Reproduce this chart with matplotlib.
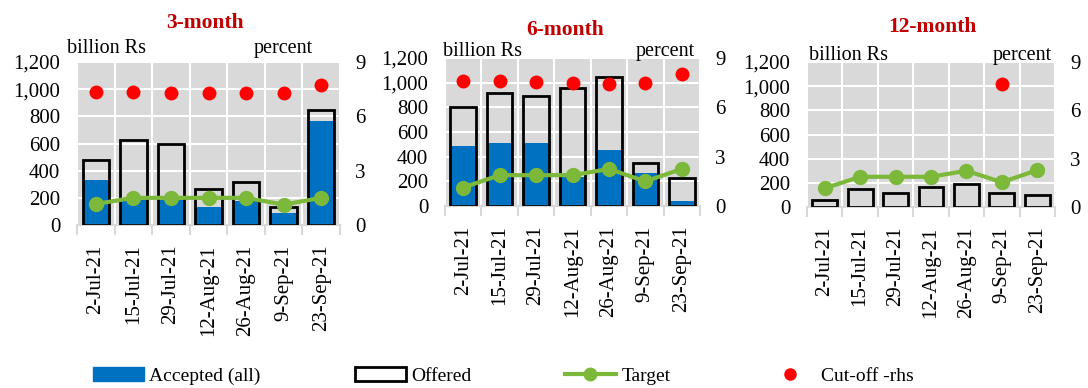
### Treasury bill auctions, Jul-Sep 2021: offered vs accepted,
### target and cut-off yield for 3, 6 and 12 month bills

# Import modules
import matplotlib
matplotlib.use('Agg')
import matplotlib.pyplot as pp
from matplotlib.lines import Line2D
from matplotlib.patches import Patch
import numpy as np

##### DATA #####

dates = ['2-Jul-21', '15-Jul-21', '29-Jul-21', '12-Aug-21', '26-Aug-21', '9-Sep-21', '23-Sep-21']

# billion Rs
m3_offered = [475, 625, 600, 265, 320, 135, 845]
m3_accepted = [330, 185, 185, 135, 175, 88, 762]
m3_target = [155, 200, 200, 200, 200, 150, 200]
# percent
m3_cutoff = [7.35, 7.35, 7.30, 7.30, 7.30, 7.30, 7.73]

m6_offered = [800, 920, 890, 955, 1050, 350, 225]
m6_accepted = [488, 508, 508, 235, 455, 270, 40]
m6_target = [150, 250, 250, 250, 300, 200, 300]
m6_cutoff = [7.58, 7.58, 7.52, 7.48, 7.42, 7.48, 8.00]

m12_offered = [55, 145, 120, 165, 188, 115, 102]
m12_accepted = [0, 0, 0, 0, 0, 0, 0]
m12_target = [155, 250, 250, 250, 300, 205, 305]
m12_cutoff = [np.nan, np.nan, np.nan, np.nan, np.nan, 7.66, np.nan]

#####  END DATA  #####

# Colours
blue = '#0070c0'
green = '#7cb83a'
red = '#ff0000'
grey = '#d9d9d9'
dred = '#c00000'

pp.rcParams['font.family'] = ['Liberation Serif', 'DejaVu Serif']
fs = 15

W, H = 1088, 388
fig = pp.figure(figsize=(W/100, H/100), dpi=100)

# Convert pixel positions (from the top left) to figure fractions
def fx(x):
    return x/W

def fy(y):
    return 1.0-y/H

# Panel settings: title, data, plot box (left, top, right, bottom), title position,
# x of "billion Rs", x end of "percent", baseline of unit labels
panels = [
    ('3-month', m3_offered, m3_accepted, m3_target, m3_cutoff, (77, 62, 340, 225), (205, 28), 67, 313, 53),
    ('6-month', m6_offered, m6_accepted, m6_target, m6_cutoff, (445, 58, 700, 206), (565, 35), 443, 695, 56),
    ('12-month', m12_offered, m12_accepted, m12_target, m12_cutoff, (807, 62, 1055, 207), (932, 32), 809, 1052, 60),
]

x = np.arange(len(dates))

for title, offered, accepted, target, cutoff, box, tpos, bx, px, uy in panels:

    left, top, right, bottom = box
    ax = fig.add_axes([fx(left), fy(bottom), fx(right-left), (bottom-top)/H])
    ax.set_facecolor(grey)
    ax.set_axisbelow(True)

    # Bars
    ax.bar(x, accepted, width=0.7, color=blue, zorder=2)
    ax.bar(x, offered, width=0.7, facecolor='none', edgecolor='black', linewidth=2, zorder=3)

    # Target line
    ax.plot(x, target, color=green, linewidth=3, marker='o', markersize=10, zorder=4)

    ax.set_xlim(-0.5, len(dates)-0.5)
    ax.set_ylim(0, 1200)
    ax.set_yticks(np.arange(0, 1201, 200))
    ax.set_yticklabels([f'{v:,}' for v in range(0, 1201, 200)])
    ax.set_xticks(x)
    ax.set_xticklabels(dates, rotation=90)
    ax.set_xticks(np.arange(-0.5, len(dates)), minor=True)

    ax.tick_params(axis='y', length=0, pad=12, labelsize=fs)
    ax.tick_params(axis='x', which='major', length=0, pad=14, labelsize=fs)
    ax.tick_params(axis='x', which='minor', length=7, width=1.5, color=grey)

    # White grid
    ax.grid(axis='y', color='white', linewidth=1.5)
    ax.grid(axis='x', which='minor', color='white', linewidth=1.5)
    ax.grid(axis='x', which='major', visible=False)

    for s in ['top', 'left', 'right']:
        ax.spines[s].set_visible(False)
    ax.spines['bottom'].set_color(grey)
    ax.spines['bottom'].set_linewidth(1.5)

    # Cut-off rate on the right axis
    ax2 = ax.twinx()
    ax2.plot(x, cutoff, linestyle='none', marker='o', markersize=9, color=red, zorder=5)
    ax2.set_ylim(0, 9)
    ax2.set_yticks([0, 3, 6, 9])
    ax2.tick_params(axis='y', length=0, pad=11, labelsize=fs)
    for s in ax2.spines.values():
        s.set_visible(False)

    # Titles and unit labels
    fig.text(fx(tpos[0]), fy(tpos[1]), title, color=dred, fontweight='bold',
             fontsize=15.5, ha='center', va='baseline')
    fig.text(fx(bx), fy(uy), 'billion Rs', fontsize=14.5, ha='left', va='baseline')
    fig.text(fx(px), fy(uy), 'percent', fontsize=14.5, ha='right', va='baseline')

# Legend, one entry at a time so the spacing follows the original
handles = [
    (Patch(facecolor=blue, edgecolor=blue), 'Accepted (all)', 93),
    (Patch(facecolor='white', edgecolor='black', linewidth=2), 'Offered', 355),
    (Line2D([], [], color=green, linewidth=3, marker='o', markersize=9), 'Target', 565),
    (Line2D([], [], color=red, linestyle='none', marker='o', markersize=8), 'Cut-off -rhs', 765),
]
for h, lab, lx in handles:
    fig.legend([h], [lab], loc='center left', bbox_to_anchor=(fx(lx), fy(376)),
               frameon=False, fontsize=14, borderpad=0, borderaxespad=0,
               handlelength=2.6, handletextpad=0.3)

pp.savefig('out.png', dpi=100)
pp.close()
